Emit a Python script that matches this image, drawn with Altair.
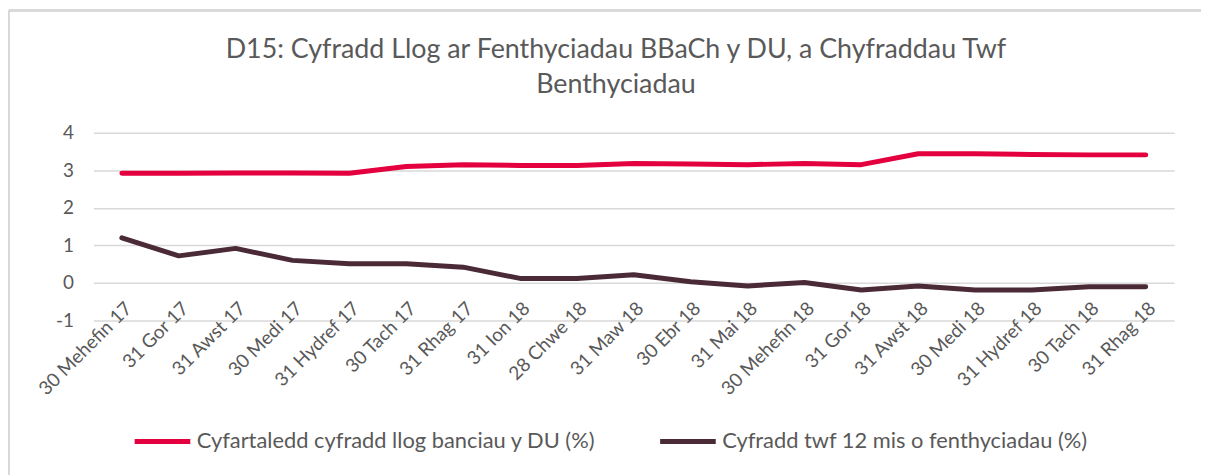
import altair as alt
import pandas as pd

categories = ["30 Mehefin 17", "31 Gor 17", "31 Awst 17", "30 Medi 17", "31 Hydref 17",
              "30 Tach 17", "31 Rhag 17", "31 Ion 18", "28 Chwe 18", "31 Maw 18",
              "30 Ebr 18", "31 Mai 18", "30 Mehefin 18", "31 Gor 18", "31 Awst 18",
              "30 Medi 18", "31 Hydref 18", "30 Tach 18", "31 Rhag 18"]
series_names = ["Cyfartaledd cyfradd llog banciau y DU (%)",
                "Cyfradd twf 12 mis o fenthyciadau (%)"]
interest_rate = [2.92, 2.92, 2.93, 2.93, 2.92, 3.10, 3.15, 3.13, 3.13, 3.18,
                 3.17, 3.15, 3.18, 3.15, 3.44, 3.44, 3.42, 3.41, 3.41]
lending_growth = [1.20, 0.72, 0.92, 0.60, 0.51, 0.51, 0.42, 0.12, 0.12, 0.22,
                  0.03, -0.08, 0.01, -0.19, -0.08, -0.19, -0.19, -0.10, -0.10]
y_ticks = [-1, 0, 1, 2, 3, 4]
colors = ["#E4003F", "#4B2A37"]
title_lines = ["D15: Cyfradd Llog ar Fenthyciadau BBaCh y DU, a Chyfraddau Twf", "Benthyciadau"]

rows = []
for name, vals in zip(series_names, [interest_rate, lending_growth]):
    for i, (c, v) in enumerate(zip(categories, vals)):
        rows.append({"cat": c, "series": name, "value": v, "order": i})
df = pd.DataFrame(rows)

FONT = "Lato"
GREY = "#595959"
W, H = 1088, 189

lines = alt.Chart(df).mark_line(strokeWidth=5, strokeCap="round", strokeJoin="round").encode(
    x=alt.X("cat:N", sort=categories, scale=alt.Scale(padding=0.5),
            axis=alt.Axis(title=None, labelAngle=-45, labelFontSize=19, labelColor=GREY,
                          labelFont=FONT, domain=False, ticks=False, grid=False,
                          offset=-24, labelPadding=2)),
    y=alt.Y("value:Q", scale=alt.Scale(domain=[-1, 4], nice=False),
            axis=alt.Axis(title=None, values=y_ticks, labelFontSize=19, labelColor=GREY,
                          labelFont=FONT, domain=False, ticks=False, grid=True,
                          labelExpr="toString(datum.value)",
                          gridColor="#d9d9d9", gridWidth=1.5, labelPadding=20)),
    color=alt.Color("series:N",
                    scale=alt.Scale(domain=series_names, range=colors),
                    legend=alt.Legend(title=None, orient="none", legendX=39, legendY=280,
                                      direction="horizontal", symbolType="stroke",
                                      symbolSize=3136, symbolStrokeWidth=5,
                                      labelFontSize=22, labelColor=GREY, labelFont=FONT,
                                      labelOffset=4, columnPadding=54, gridAlign="all",
                                      padding=0, labelLimit=700)),
    detail="series:N",
    order="order:Q",
)

border_v = alt.Chart(df).mark_rule(color="#d9d9d9", strokeWidth=2).encode(
    x=alt.value(-85), y=alt.value(-123), y2=alt.value(H + 160))
border_h = alt.Chart(df).mark_rule(color="#d9d9d9", strokeWidth=2).encode(
    x=alt.value(-85), x2=alt.value(W + 40), y=alt.value(-123))

chart = alt.layer(border_v, border_h, lines).properties(
    width=W, height=H,
    title=alt.TitleParams(text=title_lines, fontSize=27, font=FONT, color=GREY,
                          fontWeight="normal", anchor="middle", dx=-18, offset=-90,
                          lineHeight=35),
    autosize=alt.AutoSizeParams(type="none"),
    padding={"left": 86, "top": 124, "right": 27, "bottom": 154},
).configure(background="white").configure_view(stroke="transparent", strokeWidth=0)

chart.save("out.html", embed_options={"renderer": "svg", "actions": False})
